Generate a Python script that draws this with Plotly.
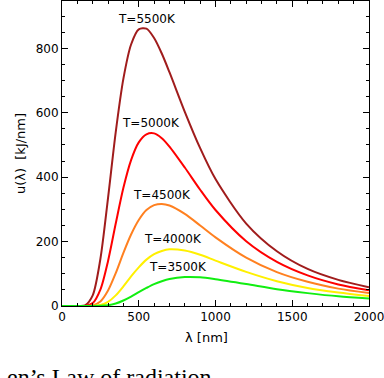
import plotly.graph_objects as go

# wavelength [nm] and spectral energy density u(lambda) [kJ/nm]
lam = [0, 100, 150, 200, 250, 300, 350, 400, 450, 500, 550, 600, 650, 700, 800, 900, 1000, 1200, 1400, 1600, 1800, 2000]
u5500 = [0, 0, 1.8, 33, 146, 336, 540, 706, 812, 859, 861, 832, 784, 726, 603, 490, 394, 256, 170, 115, 81, 58]
u5000 = [0, 0, 0.3, 9, 51, 140, 256, 367, 453, 508, 533, 536, 521, 495, 430, 361, 298, 201, 137, 95, 67, 49]
u4500 = [0, 0, 0, 1.8, 14, 48, 102, 165, 222, 267, 298, 313, 317, 312, 286, 250, 213, 150, 105, 75, 54, 40]
u4000 = [0, 0, 0, 0.2, 3, 13, 33, 61, 92, 120, 144, 161, 171, 176, 172, 159, 141, 106, 77, 56, 42, 31]
u3500 = [0, 0, 0, 0, 0.4, 2.3, 7.5, 17, 29, 43, 56, 68, 77, 84, 90, 89, 83, 68, 52, 40, 30, 23]

labels = ["T=5500K", "T=5000K", "T=4500K", "T=4000K", "T=3500K"]
label_x = [554, 580, 652, 724, 757]
label_y = [890, 568, 345, 207, 121]

series = [u5500, u5000, u4500, u4000, u3500]
colors = ["#A01C1C", "#FF0000", "#FF8020", "#FFF000", "#11EE11"]

fig = go.Figure()
for vals, col in zip(series, colors):
    fig.add_trace(go.Scatter(x=lam, y=vals, mode="lines",
                             line=dict(color=col, width=2, shape="spline", smoothing=0.8),
                             showlegend=False, hoverinfo="skip"))

for t, lx, ly in zip(labels, label_x, label_y):
    fig.add_annotation(x=lx, y=ly, text=t, showarrow=False,
                       font=dict(size=12, color="black"))

# axis titles as paper annotations so margins stay fixed
fig.add_annotation(xref="paper", yref="paper", x=0.472, y=-0.102, text="λ [nm]",
                   xanchor="center", yanchor="middle",
                   showarrow=False, font=dict(size=13, color="black"))
fig.add_annotation(xref="paper", yref="paper", x=-0.135, y=0.50, text="u(λ)  [kJ/nm]",
                   xanchor="center", yanchor="middle",
                   textangle=-90, showarrow=False, font=dict(size=13, color="black"))

# caption below the chart (cut off at the bottom in the reference too)
fig.add_annotation(xref="paper", yref="paper", x=-0.185, y=-0.185,
                   xanchor="left", yanchor="top", showarrow=False,
                   text="en’s Law of radiation",
                   font=dict(family="Liberation Serif", size=24, color="black"))

axis_common = dict(showgrid=False, zeroline=False, showline=True, linecolor="black",
                   linewidth=1, mirror="ticks", ticks="inside", ticklen=6,
                   tickcolor="black", tickfont=dict(size=12, color="black"),
                   automargin=False, ticklabeloverflow="allow")

fig.update_xaxes(range=[0, 2000], dtick=500,
                 minor=dict(ticks="inside", dtick=100, ticklen=3, tickcolor="black"),
                 **axis_common)
fig.update_yaxes(range=[0, 947], dtick=200,
                 minor=dict(ticks="inside", dtick=50, ticklen=3, tickcolor="black"),
                 **axis_common)

fig.update_layout(width=384, height=378,
                  margin=dict(l=62, r=15, t=1, b=72, autoexpand=False),
                  plot_bgcolor="white", paper_bgcolor="white",
                  font=dict(family="DejaVu Sans", color="black"))

# drop the browser's default 8px body margin so the figure sits at the page corner
fig.write_html("out.html", config={"displayModeBar": False},
               post_script="document.body.style.margin='0';")
